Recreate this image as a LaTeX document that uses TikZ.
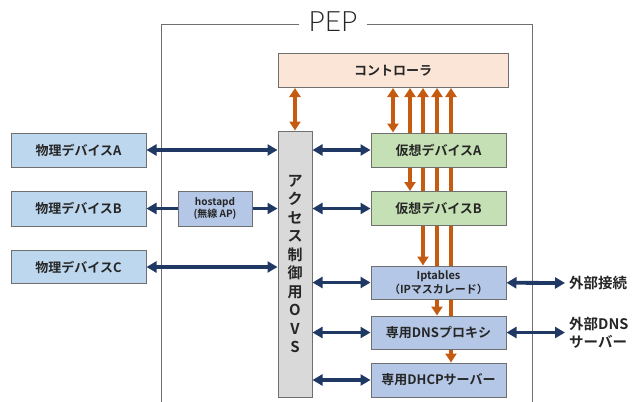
\documentclass[tikz,border=0pt]{standalone}
\usepackage{fontspec}
\setmainfont{Noto Sans CJK JP}[BoldFont=* Bold]
\newfontfamily\pepfont{Lato Light}
\usetikzlibrary{arrows.meta,backgrounds}
\definecolor{peach}{HTML}{FBE5D6}
\definecolor{vgreen}{HTML}{C5E0B4}
\definecolor{pblue}{HTML}{BDD7EE}
\definecolor{sblue}{HTML}{B4C7E7}
\definecolor{ovsgray}{HTML}{D9D9D9}
\definecolor{boxline}{HTML}{6F6F6F}
\definecolor{navy}{HTML}{203864}
\definecolor{orng}{HTML}{C55A11}
\definecolor{txt}{HTML}{262626}
\begin{document}
\begin{tikzpicture}[x=1pt,y=-1pt]
    \tikzset{box/.style = {draw=boxline,line width=1pt,minimum width=135pt,minimum height=34pt,inner sep=0pt,text=txt,font=\bfseries\fontsize{13}{15}\selectfont}}
    \tikzset{navyline/.style = {draw=navy,line width=3.8pt,>={Triangle[length=10pt,width=11pt]}}}
    \tikzset{orngline/.style = {draw=orng,line width=3.6pt,>={Triangle[length=9pt,width=11pt]}}}
    \tikzset{frame/.style = {draw=boxline,line width=0.9pt}}
    \useasboundingbox (0,0) rectangle (641,402);
    % PEP frame
    \node[inner xsep=9pt,inner ysep=0pt,text=txt,font=\pepfont\fontsize{28}{30}\selectfont] (pep) at (333,22) {PEP};
    \draw[frame] ([yshift=-2pt]pep.west) -| (161,402);
    \draw[frame] ([yshift=-2pt]pep.east) -| (532,402);
    % boxes
    \node[box,fill=peach,minimum width=230pt] (ctl) at (393,70.5) {コントローラ};
    \node[box,fill=ovsgray,minimum width=34pt,minimum height=266pt,align=center,
      font=\bfseries\fontsize{15}{18.5}\selectfont] (ovs) at (295,264)
      {ア\\ク\\セ\\ス\\制\\御\\用\\O\\V\\S};
    \node[box,fill=vgreen] (va) at (438.5,150) {仮想デバイスA};
    \node[box,fill=vgreen] (vb) at (438.5,208.5) {仮想デバイスB};
    \node[box,fill=sblue,minimum height=33pt,align=center,
      font=\bfseries\fontsize{11}{13.5}\selectfont] (ipt) at (438.5,282.5)
      {Iptables\\（IPマスカレード）};
    \node[box,fill=sblue,minimum height=33pt] (dns) at (438.5,332.5) {専用DNSプロキシ};
    \node[box,fill=sblue] (dhcp) at (438.5,380) {専用DHCPサーバー};
    \node[box,fill=pblue] (pa) at (78.5,150) {物理デバイスA};
    \node[box,fill=pblue,minimum height=35pt] (pb) at (78.5,208.5) {物理デバイスB};
    \node[box,fill=pblue,minimum height=33pt] (pc) at (78.5,267) {物理デバイスC};
    \node[box,fill=sblue,minimum width=74pt,minimum height=35pt,align=center,
      font=\bfseries\fontsize{10}{12.5}\selectfont] (ap) at (215,208.5)
      {hostapd\\(無線 AP)};
    % outside labels
    \node[anchor=west,inner xsep=4pt,text=txt,font=\bfseries\fontsize{14.5}{17}\selectfont] (extnet) at (565,283) {外部接続};
    \node[anchor=west,inner xsep=4pt,align=left,text=txt,font=\bfseries\fontsize{14.5}{18.5}\selectfont] (extdns) at (565,333) {外部DNS\\サーバー};
    % navy links
    \draw[navyline,<->] (pa) -- (pa -| ovs.west);
    \draw[navyline,->] (ap) -- (pb);
    \draw[navyline,->] (ap) -- (ap -| ovs.west);
    \draw[navyline,<->] (pc) -- (pc -| ovs.west);
    \foreach \b in {va,vb,ipt,dns,dhcp}
      \draw[navyline,<->] (\b -| ovs.east) -- (\b);
    \draw[navyline,<->] (ipt) -- (extnet.west);
    \draw[navyline,<->] (dns) -- (dns -| extdns.west);
    % orange links to the controller
    \draw[orngline,<->] (ovs.north |- ctl.south) -- (ovs.north);
    \begin{scope}[on background layer]
      \foreach \x/\b [count=\i] in {393/va,410/vb,423/ipt,437/dns,451/dhcp} {
        \coordinate (o\i) at (\x,0);
        \draw[orngline,<->] (ctl.south -| o\i) -- (\b.north -| o\i);
      }
    \end{scope}
\end{tikzpicture}
\end{document}
